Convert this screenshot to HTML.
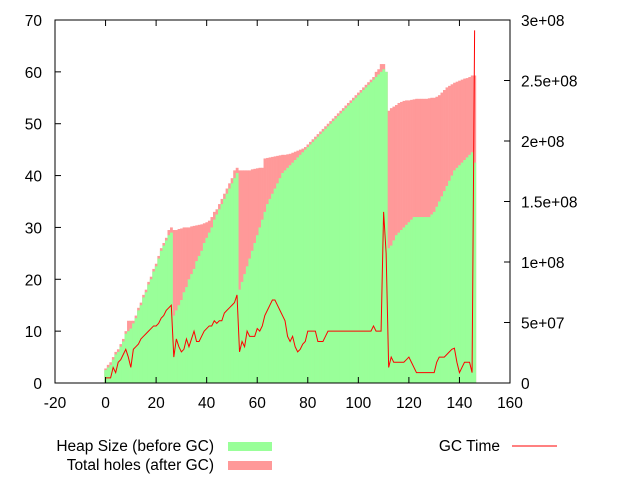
<!DOCTYPE html>
<html><head><meta charset="utf-8"><style>
html,body{margin:0;padding:0;background:#fff;}
svg{display:block;font-family:"Liberation Sans",sans-serif;font-size:15.5px;}
</style></head><body>
<svg id="chart" width="640" height="480" viewBox="0 0 640 480" xmlns="http://www.w3.org/2000/svg">
<g id="bars"></g>
<g id="lines"></g>
<g id="axes"></g>
<g id="legend">
  <text x="214" y="451" text-anchor="end">Heap Size (before GC)</text>
  <rect x="228" y="442" width="44" height="9" fill="#99ff99"/>
  <text x="214" y="470" text-anchor="end">Total holes (after GC)</text>
  <rect x="228" y="461" width="44" height="9" fill="#ff9999"/>
  <text x="500" y="451" text-anchor="end">GC Time</text>
  <line x1="512" y1="446" x2="557" y2="446" stroke="#ff0000" stroke-width="1"/>
</g>
</svg>
<script>
const heap = [2.5,3,3.5,4.5,5.5,6,7,8,9.5,10,10.5,11.5,12.5,14,15,16.5,17.5,19,20,21.5,22.5,24,25.5,26.5,27.5,28.5,29,
13,14,15,16,17.5,18.5,20,21,22,23.5,24.5,25.5,27,28,29,30,31.5,32.5,33.5,34.5,35.5,36.5,37.5,38.5,39.5,40.5,
18,19.5,21,22.5,24,25.5,27,28.5,30,31.5,33,34.5,35.5,36.5,37.5,38.5,39.5,40.5,41,41.5,42,42.5,43,43.5,44,44.5,
45,45.5,46,46.5,47,47.5,48,48.5,49,49.5,50,50.5,51,51.5,52,52.5,53,53.5,54,54.5,55,55.5,56,56.5,57,57.5,58,58.5,59,59.5,60,60.5,60,
26,26.5,27.5,28.5,29,29.5,30,30.5,31,31.5,32,32,32,32,32,32,32,32.5,33,34,35,36,37,38,39,40,41,41.5,42,42.5,43,43.5,44,44.5,42.5];
const total = [2.8,3.5,4,5,6,6.5,7.5,8.5,10,12,12,12,13,14.5,15.5,17,18,19.5,20.5,22,23,24.5,26,27,28,29.5,30,
29.5,29.5,29.7,29.8,30,30,30,30.2,30.3,30.4,30.5,30.6,30.8,31,31.3,32,33,33.5,34.5,35.5,36.5,37.5,38.5,39.5,41,41.5,
41,41,41,41,41,41.2,41.3,41.4,41.5,41.5,43.3,43.4,43.5,43.6,43.7,43.8,43.9,44,44,44.1,44.2,44.4,44.6,44.8,45,45.2,
45.5,46,46.5,47,47.5,48,48.5,49,49.5,50,50.5,51,51.5,52,52.5,53,53.5,54,54.5,55,55.5,56,56.5,57,57.5,58,58.5,59,60,60.5,61.5,61.5,60,
52.5,53,53.3,53.6,54,54.2,54.4,54.5,54.5,54.6,54.7,54.8,54.8,54.8,54.8,54.8,54.9,55,55,55.2,55.5,56,56.5,57,57.3,57.6,57.9,58.1,58.3,58.5,58.7,58.8,59,59.3,59.3];
const gcTime = [1,1,1,3,2,4,4.5,5.5,6.5,5,3,6.5,7,7.5,8.5,9,9.5,10,10.5,11,11,11.5,12.5,13,14,14.5,15,
5,8.5,7,6,6.5,8.5,7,8.5,10,8,8,9,10,10.5,11,11,12,11.5,12,12,13.5,14,14.5,15,15.5,17,
6,8,7,10,9,9,9,10.5,10,11,13,14,15,16,16,15,14,13,12,9,8,9,7,6,6.5,7.5,
8,10,10,10,10,8,8,8,9,10,10,10,10,10,10,10,10,10,10,10,10,10,10,10,10,10,10,11,10,10,10,33,25,
3,5,4,4,4,4,4,4.5,5,4,3,2,2,2,2,2,2,2,2,4,5,5,5,5.5,6,6.5,6.7,4,2,3,4,4,4,2,68];
const xTicks = [-20,0,20,40,60,80,100,120,140,160];
const yTicks = [0,10,20,30,40,50,60,70];
const y2Ticks = [0,5e7,1e8,1.5e8,2e8,2.5e8,3e8];
const y2Labels = ["0","5e+07","1e+08","1.5e+08","2e+08","2.5e+08","3e+08"];

const L=55,R=510,T=20,B=383;
const X = v => L + (v+20)*(R-L)/180;
const Y = v => B - v*(B-T)/70;
const Y2 = v => B - v*(B-T)/3e8;
const NS="http://www.w3.org/2000/svg";
function mk(tag,attrs,parent){const e=document.createElementNS(NS,tag);for(const k in attrs)e.setAttribute(k,attrs[k]);parent.appendChild(e);return e;}

const bars=document.getElementById('bars');
for(let i=0;i<total.length;i++){
  const x0=X(i-0.5), x1=X(i+0.5);
  const r=mk('rect',{x:x0,y:Y(total[i]),width:x1-x0+0.3,height:B-Y(total[i]),fill:'#ff9999'},bars);
  
  
}
for(let i=0;i<heap.length;i++){
  const x0=X(i-0.5), x1=X(i+0.5);
  const r=mk('rect',{x:x0,y:Y(heap[i]),width:x1-x0+0.3,height:B-Y(heap[i]),fill:'#99ff99'},bars);
  
  
}
const lines=document.getElementById('lines');
const pl=mk('polyline',{points:gcTime.map((v,i)=>X(i)+','+Y(v)).join(' '),fill:'none',stroke:'#ff0000','stroke-width':1},lines);



const ax=document.getElementById('axes');
const frame=mk('rect',{x:L,y:T,width:R-L,height:B-T,fill:'none',stroke:'#000','stroke-width':1},ax);


xTicks.forEach(v=>{
  const x=X(v);
  mk('line',{x1:x,y1:B,x2:x,y2:B-6,stroke:'#000'},ax);
  mk('line',{x1:x,y1:T,x2:x,y2:T+6,stroke:'#000'},ax);
  const t=mk('text',{x:x,y:408,'text-anchor':'middle'},ax);
  t.textContent=v;
  
  
});
yTicks.forEach(v=>{
  const y=Y(v);
  mk('line',{x1:L,y1:y,x2:L+6,y2:y,stroke:'#000'},ax);
  const t=mk('text',{x:42,y:y+6,'text-anchor':'end'},ax);
  t.textContent=v;
  
  
});
y2Ticks.forEach((v,i)=>{
  const y=Y2(v);
  mk('line',{x1:R,y1:y,x2:R-6,y2:y,stroke:'#000'},ax);
  const t=mk('text',{x:R+11,y:y+6,'text-anchor':'start'},ax);
  t.textContent=y2Labels[i];
  
  
});
</script>
</body></html>
